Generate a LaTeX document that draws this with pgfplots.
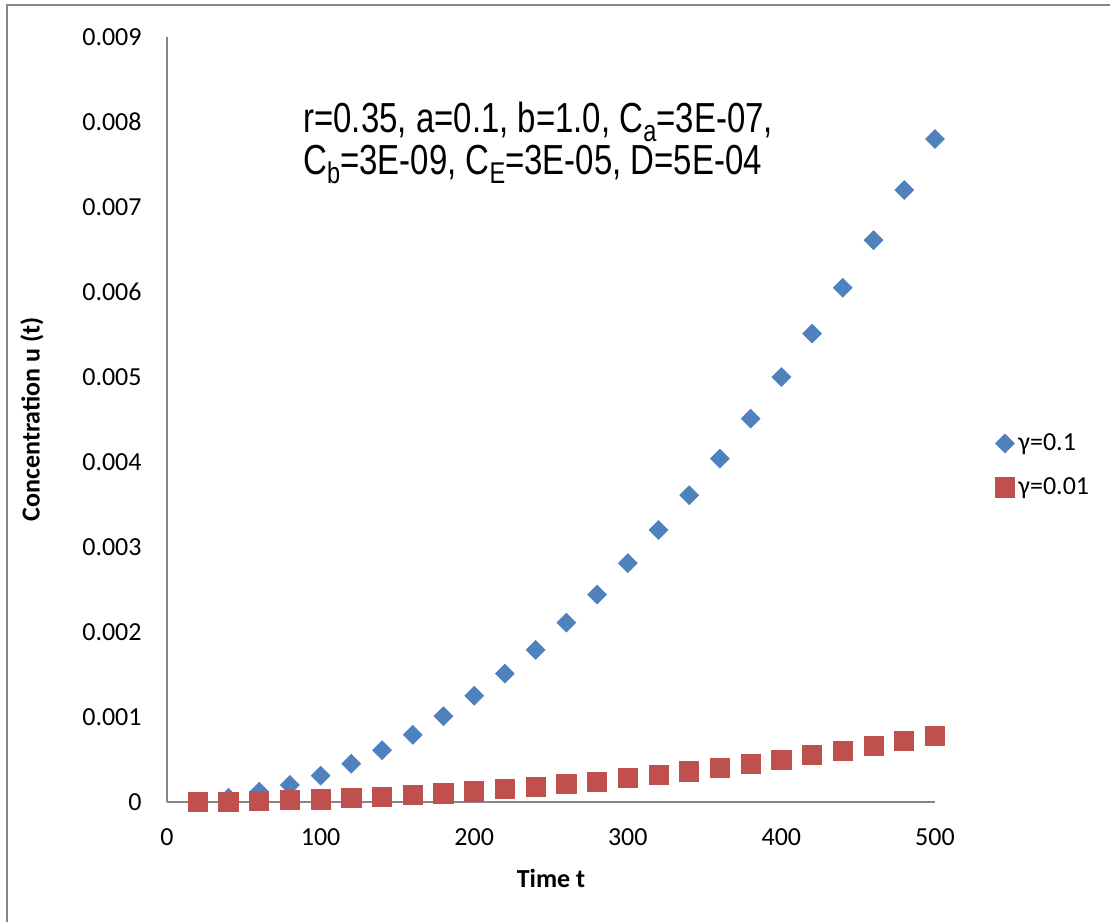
\documentclass[border=0pt]{standalone}
\usepackage{pgfplots}
\pgfplotsset{compat=1.18}
\usepackage{fontspec}
\setmainfont{Carlito}
\newfontfamily\narrowfont[FakeStretch=0.785]{Liberation Sans}
\definecolor{xlblue}{HTML}{4F81BD}
\definecolor{xlred}{HTML}{C0504D}
\definecolor{axgray}{HTML}{868686}
\newcommand{\sub}[1]{\raisebox{-4.5pt}{\fontsize{15}{15}\selectfont #1}}

\begin{document}
\begin{tikzpicture}
% page = 1110x922 px, 1 px = 0.5pt, axis origin at px (167,802)
\useasboundingbox (-83.5pt,-60pt) rectangle (471.5pt,401pt);
\draw[axgray, line width=0.8pt] (-80pt,-70pt) -- (-80pt,398.5pt) -- (480pt,398.5pt);
\begin{axis}[
  scale only axis, width=384pt, height=382.5pt,
  xmin=0, xmax=500, ymin=0, ymax=0.009,
  axis x line*=bottom, axis y line*=left,
  axis line style={axgray, line width=1pt},
  major tick length=0pt,
  xtick={0,100,...,500}, ytick={0,0.001,...,0.009},
  scaled y ticks=false,
  yticklabel style={/pgf/number format/fixed, /pgf/number format/precision=3,
    anchor=east, inner sep=0pt, xshift=-12.5pt},
  xticklabel style={anchor=north, inner sep=0pt, yshift=-13pt},
  /pgf/number format/assume math mode=true,
  tick label style={font=\fontsize{13}{15}\selectfont},
  xlabel={Time t},
  label style={font=\fontsize{13}{15}\selectfont\bfseries},
  xlabel style={at={(axis description cs:0.5,0)}, anchor=center, yshift=-38pt},
  legend style={at={(axis description cs:1.078,0.44)}, anchor=west, draw=none, fill=none,
    font=\fontsize{13}{15}\selectfont, row sep=8pt, inner sep=0pt},
  legend cell align=left,
  legend image code/.code={\draw[#1] plot coordinates {(0.05cm,0cm)};},
  clip=false,
]
\addplot[only marks, mark=square*, mark size=3.3pt, color=xlblue, mark options={rotate=45}]
coordinates {(20,0.0000)(40,0.00005)(60,0.00012)(80,0.0002)(100,0.00031)(120,0.00045)
(140,0.00061)(160,0.00079)(180,0.00101)(200,0.00125)(220,0.00151)(240,0.00179)
(260,0.00211)(280,0.00244)(300,0.00281)(320,0.0032)(340,0.00361)(360,0.00404)
(380,0.00451)(400,0.005)(420,0.00551)(440,0.00605)(460,0.00661)(480,0.0072)(500,0.0078)};
\addlegendentry{γ=0.1}
\addplot[only marks, mark=square*, mark size=4.8pt, color=xlred]
coordinates {(20,0.0)(40,0.000005)(60,0.00001)(80,0.00002)(100,0.00003)(120,0.000045)
(140,0.00006)(160,0.00008)(180,0.0001)(200,0.000125)(220,0.00015)(240,0.00018)
(260,0.00021)(280,0.00024)(300,0.00028)(320,0.00032)(340,0.00036)(360,0.0004)
(380,0.00045)(400,0.0005)(420,0.00055)(440,0.0006)(460,0.00066)(480,0.00072)(500,0.00078)};
\addlegendentry{γ=0.01}
\end{axis}
\node[rotate=90, inner sep=0pt, font=\fontsize{13}{15}\selectfont\bfseries] at (-67.5pt,191.25pt)
  {Concentration u (t)};
\node[anchor=base west, inner sep=0pt, font=\narrowfont\fontsize{21}{21}\selectfont] at (68pt,334.5pt)
  {r=0.35, a=0.1, b=1.0, C\sub{a}=3E-07,};
\node[anchor=base west, inner sep=0pt, font=\narrowfont\fontsize{21}{21}\selectfont] at (68pt,313.5pt)
  {C\sub{b}=3E-09, C\sub{E}=3E-05, D=5E-04};
\end{tikzpicture}
\end{document}
